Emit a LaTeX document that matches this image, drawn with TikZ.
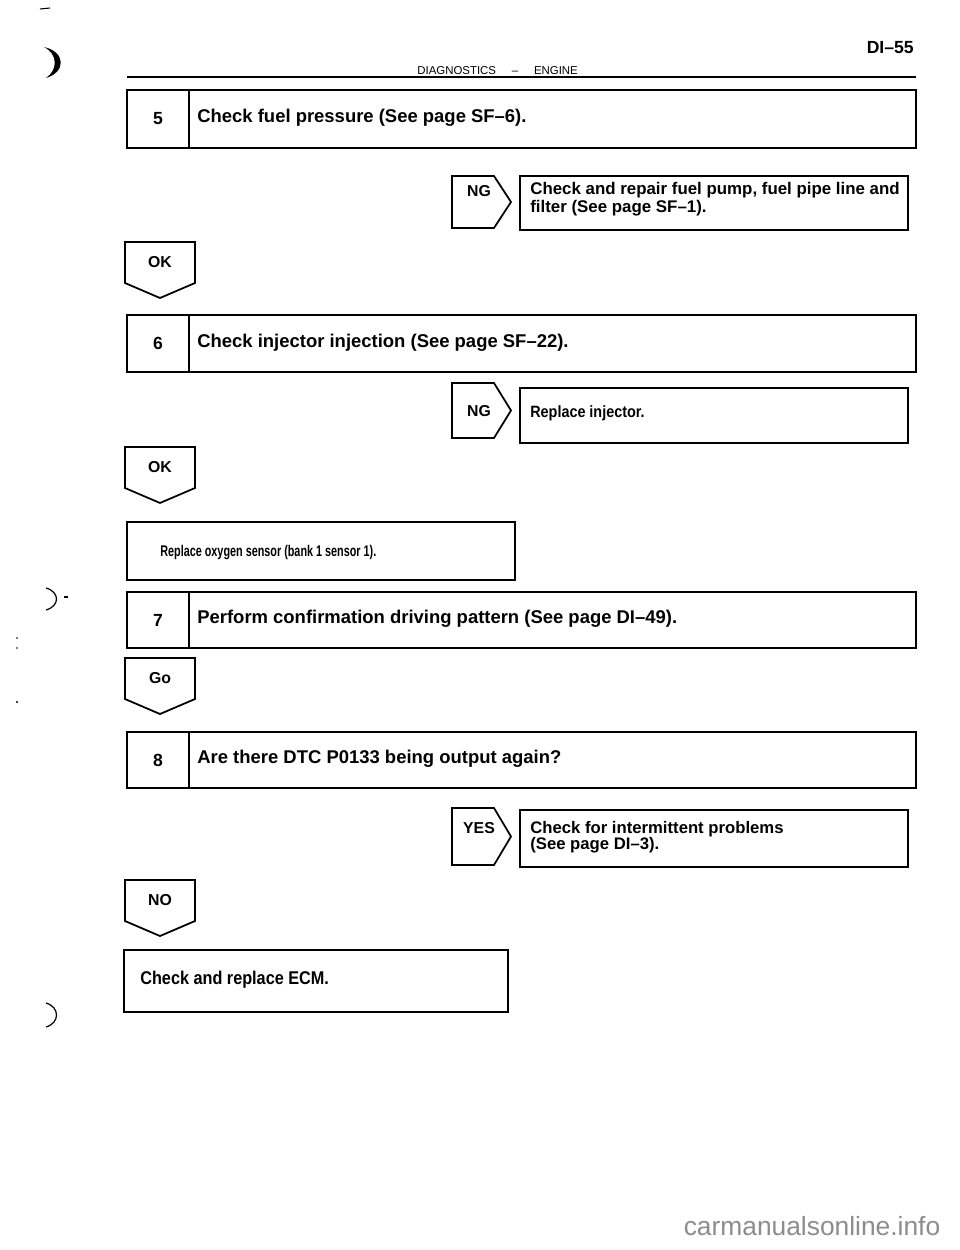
\documentclass[tikz,border=0pt]{standalone}
\usepackage{fontspec}
\setmainfont{Liberation Sans}
\newfontfamily\narrowfont[FakeStretch=0.88]{Liberation Sans}
\newfontfamily\condfont[FakeStretch=0.7]{Liberation Sans}
\tikzset{
  box/.style={line width=1pt, line join=miter},
  steptxt/.style={anchor=west, inner sep=0pt, font=\fontsize{10.5}{12}\selectfont\bfseries},
  numtxt/.style={inner sep=0pt, font=\fontsize{10}{11}\selectfont\bfseries},
  lbltxt/.style={inner sep=0pt, font=\fontsize{9}{10}\selectfont\bfseries},
  fixtxt/.style={anchor=west, align=left, inner sep=0pt},
}
\begin{document}
\begin{tikzpicture}[x=0.2mm, y=-0.2mm]
  \useasboundingbox (0,0) rectangle (960,1250);
  % Kopfzeile
  \node[anchor=east, inner sep=0pt, font=\fontsize{10}{12}\selectfont\bfseries] (page) at (914,48) {DI–55};
  \node[anchor=base west, inner sep=0pt, font=\fontsize{6.5}{8}\selectfont] (head) at (417,74)
    {DIAGNOSTICS\hspace{9pt}–\hspace{9pt}ENGINE};
  \draw[line width=0.9pt] (127,77) -- (916,77);
  % Pruefschritte 5 bis 8
  \foreach \n/\ya/\yb/\txt in {5/90/148/{Check fuel pressure (See page SF–6).},
      6/315/372/{Check injector injection (See page SF–22).},
      7/592/648/{Perform confirmation driving pattern (See page DI–49).},
      8/732/788/{Are there DTC P0133 being output again?}}{
    \draw[box] (127,\ya) rectangle (916,\yb);
    \draw[box] (189,\ya) -- (189,\yb);
    \node[numtxt] (n\n) at (158,{(\ya+\yb)/2}) {\n};
    \node[steptxt] (s\n) at (197,{(\ya+\yb)/2-1}) {\txt};
  }
  % NG / YES nach rechts
  \foreach \nm/\t/\ya/\yb/\ly in {ng1/NG/176/228/191, ng2/NG/383/438/411, yes/YES/808/865/828}{
    \draw[box] (452,\ya) -- (494,\ya) -- (511,{(\ya+\yb)/2}) -- (494,\yb) -- (452,\yb) -- cycle;
    \node[lbltxt] (\nm) at (479,\ly) {\t};
  }
  \draw[box] (520,176) rectangle (908,230);
  \node[fixtxt, font=\fontsize{9.6}{8.6}\selectfont\bfseries] (fix1) at (530,199)
    {Check and repair fuel pump, fuel pipe line and\\filter (See page SF–1).};
  \draw[box] (520,388) rectangle (908,443);
  \node[fixtxt, font=\fontsize{9.3}{11}\narrowfont\bfseries] (fix2) at (530,413) {Replace injector.};
  \draw[box] (520,810) rectangle (908,867);
  \node[fixtxt, font=\fontsize{9.5}{9}\selectfont\bfseries] (fix3) at (530,837)
    {Check for intermittent problems\\(See page DI–3).};
  % OK / Go / NO nach unten
  \foreach \nm/\t/\y in {ok1/OK/242, ok2/OK/447, go/Go/658, no/NO/880}{
    \draw[box] (125,\y) -- (195,\y) -- (195,\y+41) -- (160,\y+56) -- (125,\y+41) -- cycle;
    \node[lbltxt] (\nm) at (160,\y+20) {\t};
  }
  % Massnahmen ohne Nummer
  \draw[box] (127,522) rectangle (515,580);
  \node[fixtxt, font=\fontsize{8.8}{10}\condfont\bfseries] (oxy) at (160,553) {Replace oxygen sensor (bank 1 sensor 1).};
  \draw[box] (124,950) rectangle (508,1012);
  \node[fixtxt, font=\fontsize{10.5}{12}\narrowfont\bfseries] (ecm) at (140,980) {Check and replace ECM.};
  % Randspuren vom Scan
  \draw[line width=0.6pt] (40,9) -- (50,8);
  \fill (44,47) .. controls (66,52) and (66,72) .. (46,78) .. controls (58,70) and (58,54) .. cycle;
  \draw[line width=0.7pt] (46,588) .. controls (60,592) and (60,606) .. (46,610);
  \draw[line width=0.6pt] (64,597) -- (68,597);
  \fill (17,638) circle (0.9) (17,648) circle (0.9) (17,702) circle (1.1);
  \draw[line width=0.7pt] (46,1003) .. controls (60,1007) and (60,1023) .. (46,1027);
  % Wasserzeichen
  \node[font=\fontsize{15}{17}\selectfont, text=black!45, inner sep=0pt] (wm) at (812,1226) {carmanualsonline.info};
\end{tikzpicture}
\end{document}
